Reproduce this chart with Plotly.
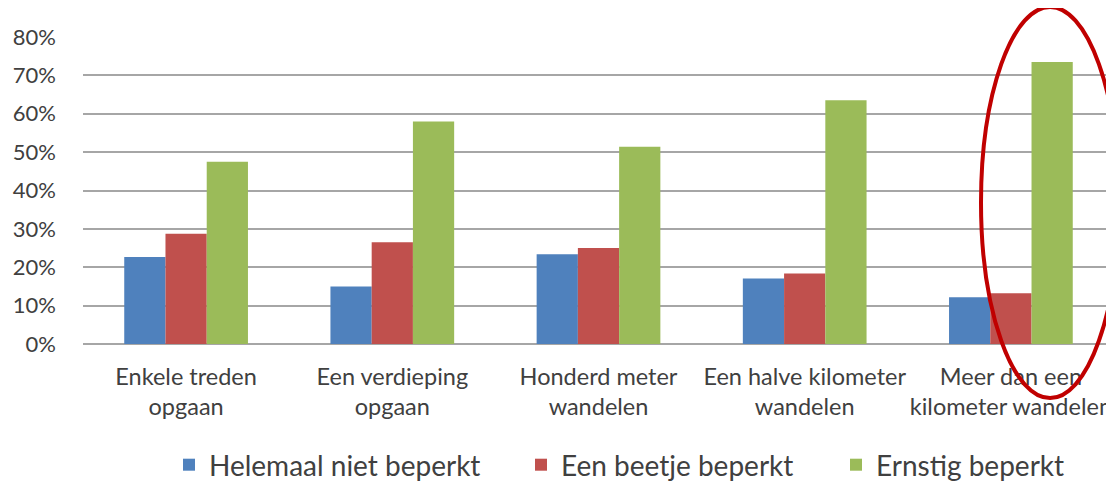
import plotly.graph_objects as go

categories = ["Enkele treden<br>opgaan", "Een verdieping<br>opgaan", "Honderd meter<br>wandelen",
              "Een halve kilometer<br>wandelen", "Meer dan een<br>kilometer wandelen"]
series_names = ["Helemaal niet beperkt", "Een beetje beperkt", "Ernstig beperkt"]
helemaal_niet = [0.227, 0.150, 0.234, 0.171, 0.122]
een_beetje = [0.287, 0.265, 0.250, 0.184, 0.132]
ernstig = [0.475, 0.580, 0.514, 0.635, 0.735]
colors = ["#4F81BD", "#C0504D", "#9BBB59"]
legend_widths = [307, 270, 200]
y_ticks = [0, 0.1, 0.2, 0.3, 0.4, 0.5, 0.6, 0.7, 0.8]

# page body has an 8px margin, so the figure is drawn 8px smaller and offset
W, H = 1106, 477
font_family = "Lato, 'Open Sans', sans-serif"
fig = go.Figure()
for name, vals, col, lw in zip(series_names, [helemaal_niet, een_beetje, ernstig], colors, legend_widths):
    fig.add_trace(go.Bar(x=categories, y=vals, name=name, marker_color=col, marker_line_width=0,
                         legendwidth=lw))

fig.update_layout(
    width=W, height=H,
    margin=dict(l=75, r=0, t=29, b=141, autoexpand=False),
    paper_bgcolor="white", plot_bgcolor="white",
    barmode="group", bargap=0.4, bargroupgap=0,
    font=dict(family=font_family, color="#404040"),
    showlegend=True,
    legend=dict(orientation="h", x=161 / W, xanchor="left", y=1 - 457 / H, yanchor="middle",
                yref="container", xref="container",
                font=dict(size=28, color="#404040"), itemwidth=30, tracegroupgap=0),
)
fig.update_xaxes(showgrid=False, showline=False, ticks="", tickangle=0,
                 tickfont=dict(size=23.5, color="#404040"),
                 ticklabelstandoff=16, automargin=False)
fig.update_yaxes(range=[0, 0.8], tickvals=y_ticks, tickformat=".0%", showgrid=True,
                 gridcolor="#A6A6A6", gridwidth=2, zeroline=True, zerolinecolor="#A6A6A6",
                 zerolinewidth=2, showline=False, ticks="", tickfont=dict(size=22, color="#404040"),
                 ticklabelstandoff=26, automargin=False)
fig.add_shape(type="circle", xref="paper", yref="paper", x0=0.871, x1=1.005, y0=-0.176, y1=1.098,
              line=dict(color="#C00000", width=4), layer="above")
fig.write_html("out.html")
